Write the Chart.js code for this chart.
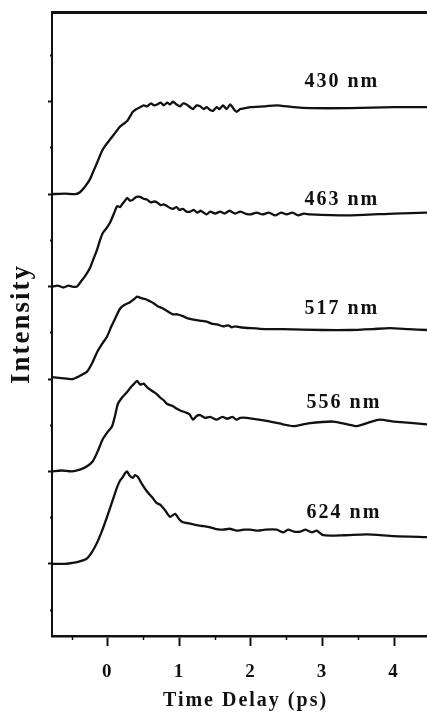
<!DOCTYPE html>
<html>
<head>
<meta charset="utf-8">
<script src="https://cdn.jsdelivr.net/npm/chart.js@4"></script>
<style>
html,body{margin:0;padding:0;background:#fff;}
#wrap{width:427px;height:716px;}
</style>
</head>
<body>
<div id="wrap"><canvas id="c" width="427" height="716"></canvas></div>
<script>
// ---- data (time in ps, intensity relative to each trace's baseline) ----
const seriesNames = ['430 nm', '463 nm', '517 nm', '556 nm', '624 nm'];
const baselines = [4, 3, 2, 1, 0];

const s430 = [[-0.78,0],[-0.6,0.005],[-0.45,0.0],[-0.39,0.02],[-0.32,0.08],[-0.25,0.16],[-0.2,0.25],[-0.15,0.34],[-0.08,0.47],[-0.02,0.54],[0.03,0.59],[0.08,0.64],[0.13,0.69],[0.17,0.73],[0.22,0.76],[0.27,0.79],[0.31,0.84],[0.35,0.89],[0.4,0.92],[0.45,0.94],[0.5,0.96],[0.55,0.95],[0.6,0.98],[0.65,0.96],[0.69,0.97],[0.74,0.99],[0.78,0.96],[0.83,0.99],[0.87,0.97],[0.91,1.0],[0.96,0.97],[1.01,0.95],[1.05,0.98],[1.10,0.97],[1.15,0.94],[1.19,0.92],[1.24,0.96],[1.29,0.95],[1.34,0.92],[1.38,0.94],[1.43,0.91],[1.47,0.90],[1.52,0.94],[1.56,0.92],[1.61,0.96],[1.66,0.92],[1.71,0.97],[1.76,0.92],[1.80,0.89],[1.85,0.92],[1.92,0.93],[1.99,0.94],[2.2,0.95],[2.36,0.96],[2.6,0.94],[2.83,0.93],[3.38,0.93],[4.0,0.94],[4.46,0.94]];
const s463 = [[-0.78,0],[-0.7,0.01],[-0.62,-0.01],[-0.55,0.01],[-0.5,0.0],[-0.43,0.0],[-0.38,0.05],[-0.32,0.11],[-0.25,0.2],[-0.2,0.3],[-0.15,0.40],[-0.11,0.5],[-0.07,0.58],[-0.02,0.63],[0.03,0.69],[0.08,0.78],[0.13,0.87],[0.17,0.86],[0.2,0.89],[0.24,0.93],[0.27,0.96],[0.31,0.93],[0.35,0.94],[0.4,0.97],[0.45,0.97],[0.5,0.95],[0.55,0.94],[0.6,0.91],[0.65,0.92],[0.69,0.91],[0.74,0.88],[0.78,0.89],[0.83,0.87],[0.87,0.85],[0.91,0.84],[0.96,0.86],[1.0,0.83],[1.05,0.84],[1.10,0.81],[1.15,0.81],[1.2,0.83],[1.25,0.80],[1.3,0.82],[1.38,0.78],[1.43,0.81],[1.5,0.79],[1.57,0.81],[1.63,0.79],[1.7,0.82],[1.78,0.79],[1.85,0.81],[1.92,0.79],[1.99,0.78],[2.08,0.80],[2.16,0.78],[2.25,0.80],[2.34,0.77],[2.42,0.80],[2.5,0.78],[2.58,0.80],[2.66,0.77],[2.74,0.79],[2.83,0.78],[3.38,0.77],[4.0,0.79],[4.46,0.80]];
const s517 = [[-0.78,0.02],[-0.65,0.01],[-0.49,0.0],[-0.4,0.03],[-0.29,0.08],[-0.22,0.17],[-0.15,0.29],[-0.08,0.38],[-0.01,0.46],[0.05,0.57],[0.1,0.65],[0.17,0.76],[0.23,0.80],[0.31,0.83],[0.36,0.86],[0.41,0.89],[0.45,0.88],[0.49,0.87],[0.54,0.86],[0.59,0.84],[0.64,0.82],[0.69,0.79],[0.75,0.77],[0.8,0.75],[0.86,0.72],[0.91,0.70],[0.97,0.70],[1.05,0.68],[1.1,0.66],[1.15,0.65],[1.22,0.64],[1.3,0.63],[1.38,0.62],[1.45,0.60],[1.53,0.59],[1.61,0.57],[1.68,0.58],[1.73,0.56],[1.78,0.57],[1.85,0.56],[2.0,0.55],[2.2,0.54],[2.45,0.54],[3.0,0.53],[3.38,0.53],[3.7,0.54],[3.94,0.55],[4.2,0.54],[4.46,0.53]];
const s556 = [[-0.78,0],[-0.65,0.01],[-0.5,0.0],[-0.39,0.02],[-0.3,0.05],[-0.21,0.11],[-0.14,0.22],[-0.07,0.35],[0.0,0.43],[0.06,0.49],[0.1,0.6],[0.14,0.73],[0.2,0.80],[0.27,0.86],[0.33,0.92],[0.37,0.95],[0.41,0.98],[0.45,0.94],[0.5,0.95],[0.55,0.91],[0.62,0.87],[0.68,0.84],[0.73,0.80],[0.78,0.77],[0.83,0.73],[0.9,0.71],[0.96,0.68],[1.01,0.66],[1.08,0.64],[1.14,0.62],[1.19,0.56],[1.24,0.60],[1.29,0.61],[1.36,0.58],[1.43,0.59],[1.52,0.56],[1.6,0.59],[1.67,0.57],[1.74,0.59],[1.8,0.56],[1.85,0.58],[1.94,0.58],[2.2,0.55],[2.45,0.51],[2.59,0.49],[2.8,0.52],[3.15,0.54],[3.35,0.51],[3.48,0.49],[3.65,0.53],[3.80,0.56],[4.0,0.54],[4.46,0.51]];
const s624 = [[-0.78,0],[-0.6,0.0],[-0.49,0.01],[-0.38,0.03],[-0.29,0.06],[-0.22,0.13],[-0.15,0.23],[-0.08,0.36],[-0.01,0.51],[0.06,0.67],[0.13,0.83],[0.17,0.9],[0.21,0.94],[0.24,0.98],[0.27,1.0],[0.3,0.96],[0.35,0.93],[0.38,0.96],[0.42,0.94],[0.48,0.86],[0.55,0.78],[0.62,0.72],[0.68,0.66],[0.73,0.64],[0.8,0.58],[0.87,0.51],[0.94,0.54],[1.0,0.48],[1.05,0.45],[1.12,0.44],[1.18,0.43],[1.24,0.42],[1.32,0.41],[1.4,0.40],[1.5,0.38],[1.61,0.37],[1.7,0.38],[1.8,0.36],[1.9,0.37],[1.99,0.37],[2.1,0.36],[2.2,0.37],[2.36,0.37],[2.45,0.34],[2.52,0.37],[2.6,0.35],[2.69,0.35],[2.76,0.37],[2.85,0.34],[2.92,0.36],[3.01,0.31],[3.3,0.31],[3.62,0.32],[4.0,0.30],[4.46,0.29]];
const seriesData = [s430, s463, s517, s556, s624];

// label anchors (data units)
const labelTimes = [3.27, 3.27, 3.27, 3.30, 3.30];
const labelLevels = [5.22, 3.94, 2.76, 1.74, 0.55];

// axis ranges and tick values
const xMin = -0.78, xMax = 4.46;
const yMin = -0.78, yMax = 5.97;
const xMajorTicks = [0, 1, 2, 3, 4];
const xMinorTicks = [-0.5, 0.5, 1.5, 2.5, 3.5];
const yMajorTicks = [0, 1, 2, 3, 4, 5];
const yMinorTicks = [-0.5, 0.5, 1.5, 2.5, 3.5, 4.5, 5.5];

const SERIF = "'Liberation Serif', 'Times New Roman', serif";
const INK = '#111';

const datasets = seriesData.map((s, i) => ({
  label: seriesNames[i],
  data: s.map(p => ({x: p[0], y: p[1] + baselines[i]})),
  borderColor: INK,
  borderWidth: 2.3,
  pointRadius: 0,
  tension: 0.2,
  fill: false
}));

const setTicks = vals => scale => { scale.ticks = vals.map(v => ({value: v})); };

const spacingPlugin = {
  id: 'spacing',
  beforeDraw(chart) { chart.ctx.letterSpacing = '2px'; },
  afterDatasetsDraw(chart) {
    const ctx = chart.ctx;
    const xs = chart.scales.x, ys = chart.scales.y;
    ctx.save();
    ctx.fillStyle = INK;
    ctx.font = "bold 20px " + SERIF;
    ctx.textAlign = 'center';
    ctx.textBaseline = 'middle';
    seriesNames.forEach((n, i) => {
      ctx.fillText(n, xs.getPixelForValue(labelTimes[i]), ys.getPixelForValue(labelLevels[i]));
    });
    ctx.restore();
    ctx.letterSpacing = '0px';
  }
};

new Chart(document.getElementById('c'), {
  type: 'line',
  data: { datasets },
  plugins: [spacingPlugin],
  options: {
    responsive: false,
    animation: false,
    layout: { padding: { top: 12, right: 0, left: 0, bottom: 0 } },
    plugins: { legend: { display: false }, tooltip: { enabled: false } },
    scales: {
      x: {
        type: 'linear', min: xMin, max: xMax,
        afterBuildTicks: setTicks(xMajorTicks),
        afterFit: s => { s.height = 80; },
        grid: { display: true, drawOnChartArea: false, drawTicks: true, tickLength: 10, tickWidth: 2, tickColor: INK },
        border: { display: true, color: INK, width: 2.5 },
        ticks: { color: INK, font: { family: SERIF, size: 19, weight: 'bold' }, padding: 15, maxRotation: 0, callback: v => String(v) },
        title: { display: true, text: '\u2002Time Delay (ps)', color: INK, font: { family: SERIF, size: 20, weight: 'bold' }, padding: { top: 0, bottom: 3 } }
      },
      x2: {
        type: 'linear', axis: 'x', min: xMin, max: xMax, position: { y: yMin },
        afterBuildTicks: setTicks(xMinorTicks),
        grid: { display: true, drawOnChartArea: false, drawTicks: true, tickLength: 4, tickWidth: 1.5, tickColor: INK },
        border: { display: false },
        ticks: { display: false }
      },
      xTop: {
        type: 'linear', axis: 'x', min: xMin, max: xMax, position: { y: yMax },
        grid: { display: false },
        border: { display: true, color: INK, width: 3 },
        ticks: { display: false }
      },
      y: {
        type: 'linear', min: yMin, max: yMax, z: 1,
        afterBuildTicks: setTicks(yMajorTicks),
        afterFit: s => { s.width = 52; },
        grid: { display: true, drawOnChartArea: false, drawTicks: true, tickLength: 4, tickWidth: 2, tickColor: INK },
        border: { display: true, color: INK, width: 2 },
        ticks: { display: false },
        title: { display: true, text: 'Intensity', color: INK, font: { family: SERIF, size: 27, weight: 'bold' }, padding: { top: 6, bottom: 0 } }
      },
      y2: {
        type: 'linear', axis: 'y', min: yMin, max: yMax, position: { x: xMin },
        afterBuildTicks: setTicks(yMinorTicks),
        grid: { display: true, drawOnChartArea: false, drawTicks: true, tickLength: 2, tickWidth: 2, tickColor: INK },
        border: { display: false },
        ticks: { display: false }
      }
    }
  }
});
</script>
</body>
</html>
